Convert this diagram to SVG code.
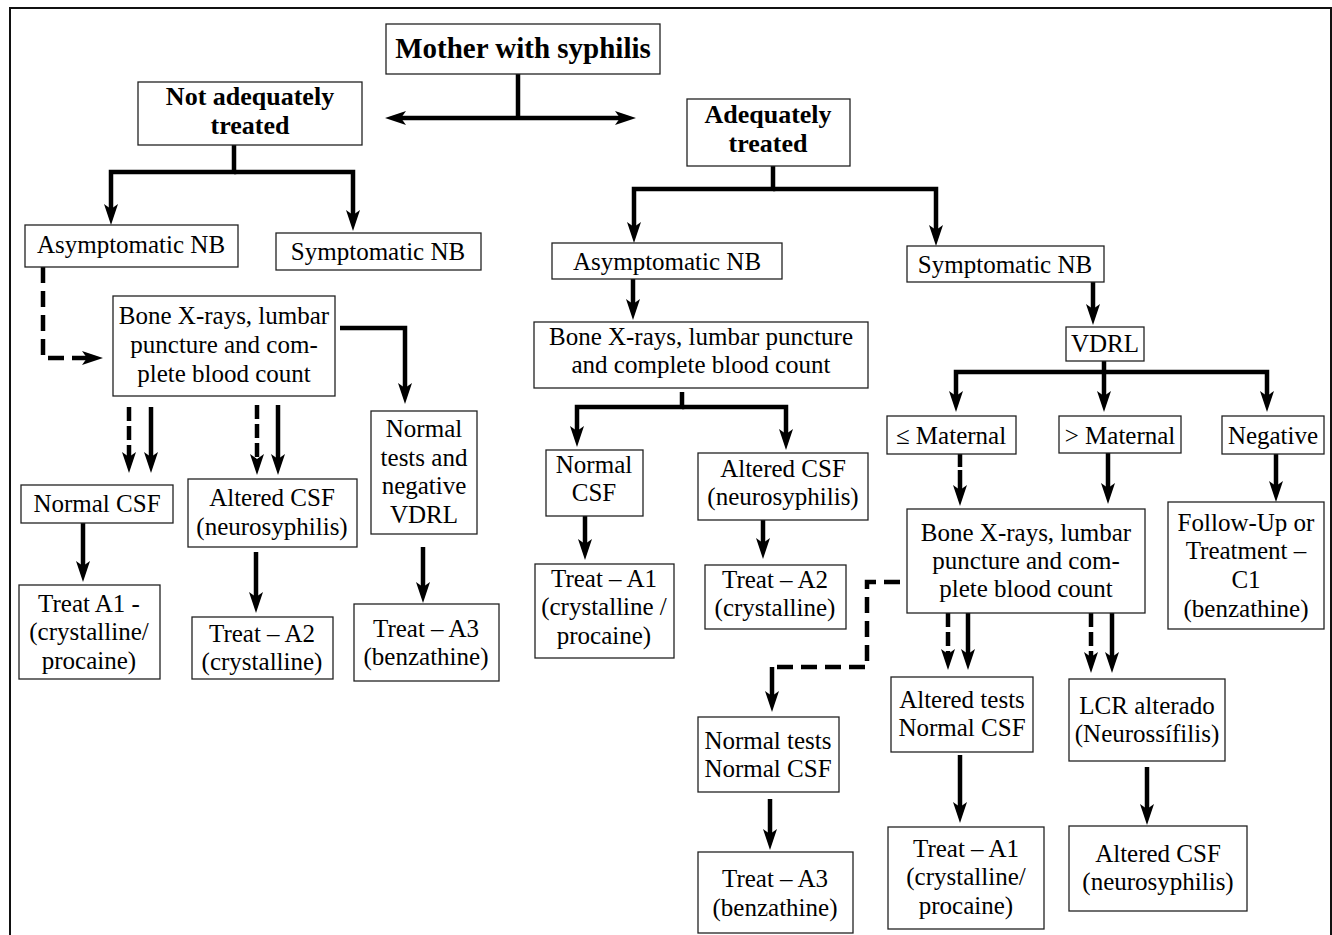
<svg xmlns="http://www.w3.org/2000/svg" width="1332" height="935" viewBox="0 0 1332 935">
<style>
.box{fill:#fff;stroke:#222;stroke-width:1.3}
.t{font-family:"Liberation Serif","Times New Roman",serif;font-size:25px;fill:#000;text-anchor:middle}
.b{font-weight:bold;font-size:26px}
.c{fill:none;stroke:#000;stroke-width:4.5;stroke-linejoin:miter}
.a{marker-end:url(#ah)}
.d{stroke-dasharray:14 5}
.dl{stroke-dasharray:16 8}
.frame{fill:none;stroke:#111;stroke-width:2}
</style>
<defs>
<marker id="ah" markerUnits="userSpaceOnUse" markerWidth="22" markerHeight="16" refX="9" refY="7" orient="auto-start-reverse">
<path d="M0,0 L21,7 L0,14 L5,7 z" fill="#000"/>
</marker>
</defs>
<rect width="1332" height="935" fill="#fff"/>
<path class="frame" d="M10,945 V8 H1331 V945"/>

<g id="connectors">
<path class="c" d="M518,74 V118"/>
<path class="c" d="M397,118 H624" marker-start="url(#ah)" marker-end="url(#ah)"/>
<path class="c a" d="M234,145 V172 H111 V213"/>
<path class="c a" d="M234,172 H353 V219"/>
<path class="c a" d="M773,166 V189 H634 V231"/>
<path class="c a" d="M773,189 H936 V234"/>
<path class="c a dl" d="M43,267 V358 H91"/>
<path class="c a" d="M340,328 H405 V392"/>
<path class="c a d" d="M129,407 V461"/>
<path class="c a" d="M151,407 V461"/>
<path class="c a d" d="M257,405 V463"/>
<path class="c a" d="M278,405 V463"/>
<path class="c a" d="M83,523 V570"/>
<path class="c a" d="M256,552 V601"/>
<path class="c a" d="M423,547 V591"/>
<path class="c a" d="M633,279 V308"/>
<path class="c a" d="M682,392 V407 H577 V435"/>
<path class="c a" d="M682,407 H786 V438"/>
<path class="c a" d="M585,516 V548"/>
<path class="c a" d="M763,520 V547"/>
<path class="c a" d="M1093,282 V313"/>
<path class="c a" d="M1104,361 V400"/>
<path class="c a" d="M1104,372 H956 V400"/>
<path class="c a" d="M1104,372 H1267 V400"/>
<path class="c a" d="M960,454 V494" style="stroke-dasharray:13 3 200"/>
<path class="c a" d="M1108,453 V492"/>
<path class="c a" d="M1276,454 V490"/>
<path class="c a d" d="M948,613 V658"/>
<path class="c a" d="M968,613 V658"/>
<path class="c a d" d="M1091,613 V661"/>
<path class="c a" d="M1112,613 V661"/>
<path class="c dl" d="M900,582 H867 V667 H772"/>
<path class="c a" d="M772,667 V700"/>
<path class="c a" d="M770,799 V838"/>
<path class="c a" d="M960,755 V811"/>
<path class="c a" d="M1147,767 V813"/>
</g>

<g id="n_mother"><rect class="box" x="386" y="24" width="274" height="50"/><text class="t b" x="523" y="58" style="font-size:29px">Mother with syphilis</text></g>
<g id="n_not_adequately"><rect class="box" x="138" y="82" width="224" height="63"/><text class="t b"><tspan x="250" y="105">Not adequately</tspan><tspan x="250" y="134">treated</tspan></text></g>
<g id="n_adequately"><rect class="box" x="687" y="99" width="163" height="67"/><text class="t b"><tspan x="768" y="123">Adequately</tspan><tspan x="768" y="152">treated</tspan></text></g>

<g id="n_asym_left"><rect class="box" x="25" y="225" width="213" height="42"/><text class="t" x="131" y="253">Asymptomatic NB</text></g>
<g id="n_sym_left"><rect class="box" x="276" y="233" width="205" height="37"/><text class="t" x="378" y="260">Symptomatic NB</text></g>
<g id="n_asym_mid"><rect class="box" x="552" y="243" width="230" height="36"/><text class="t" x="667" y="270">Asymptomatic NB</text></g>
<g id="n_sym_right"><rect class="box" x="907" y="246" width="197" height="36"/><text class="t" x="1005" y="273">Symptomatic NB</text></g>

<g id="n_bone_left"><rect class="box" x="113" y="296" width="222" height="100"/><text class="t"><tspan x="224" y="324">Bone X-rays, lumbar</tspan><tspan x="224" y="353">puncture and com-</tspan><tspan x="224" y="382">plete blood count</tspan></text></g>
<g id="n_normaltests_left"><rect class="box" x="371" y="411" width="106" height="123"/><text class="t"><tspan x="424" y="437">Normal</tspan><tspan x="424" y="466">tests and</tspan><tspan x="424" y="494">negative</tspan><tspan x="424" y="523">VDRL</tspan></text></g>
<g id="n_normalcsf_left"><rect class="box" x="21" y="485" width="152" height="38"/><text class="t" x="97" y="512">Normal CSF</text></g>
<g id="n_alteredcsf_left"><rect class="box" x="188" y="479" width="169" height="68"/><text class="t"><tspan x="272" y="506">Altered CSF</tspan><tspan x="272" y="535">(neurosyphilis)</tspan></text></g>
<g id="n_treatA1_left"><rect class="box" x="19" y="585" width="141" height="94"/><text class="t"><tspan x="89" y="612">Treat A1 -</tspan><tspan x="89" y="640">(crystalline/</tspan><tspan x="89" y="669">procaine)</tspan></text></g>
<g id="n_treatA2_left"><rect class="box" x="192" y="617" width="141" height="62"/><text class="t"><tspan x="262" y="642">Treat – A2</tspan><tspan x="262" y="670">(crystalline)</tspan></text></g>
<g id="n_treatA3_left"><rect class="box" x="354" y="604" width="145" height="77"/><text class="t"><tspan x="426" y="637">Treat – A3</tspan><tspan x="426" y="665">(benzathine)</tspan></text></g>

<g id="n_bone_mid"><rect class="box" x="534" y="322" width="334" height="66"/><text class="t"><tspan x="701" y="345">Bone X-rays, lumbar puncture</tspan><tspan x="701" y="373">and complete blood count</tspan></text></g>
<g id="n_normalcsf_mid"><rect class="box" x="546" y="450" width="97" height="66"/><text class="t"><tspan x="594" y="473">Normal</tspan><tspan x="594" y="501">CSF</tspan></text></g>
<g id="n_alteredcsf_mid"><rect class="box" x="698" y="453" width="170" height="67"/><text class="t"><tspan x="783" y="477">Altered CSF</tspan><tspan x="783" y="505">(neurosyphilis)</tspan></text></g>
<g id="n_treatA1_mid"><rect class="box" x="535" y="564" width="139" height="94"/><text class="t"><tspan x="604" y="587">Treat – A1</tspan><tspan x="604" y="615">(crystalline /</tspan><tspan x="604" y="644">procaine)</tspan></text></g>
<g id="n_treatA2_mid"><rect class="box" x="705" y="565" width="141" height="64"/><text class="t"><tspan x="775" y="588">Treat – A2</tspan><tspan x="775" y="616">(crystalline)</tspan></text></g>

<g id="n_vdrl"><rect class="box" x="1066" y="327" width="78" height="34"/><text class="t" x="1105" y="352">VDRL</text></g>
<g id="n_le_maternal"><rect class="box" x="887" y="416" width="129" height="38"/><text class="t" x="951" y="444">≤ Maternal</text></g>
<g id="n_gt_maternal"><rect class="box" x="1059" y="416" width="122" height="37"/><text class="t" x="1120" y="444">&gt; Maternal</text></g>
<g id="n_negative"><rect class="box" x="1222" y="416" width="102" height="38"/><text class="t" x="1273" y="444">Negative</text></g>
<g id="n_bone_right"><rect class="box" x="907" y="509" width="238" height="104"/><text class="t"><tspan x="1026" y="541">Bone X-rays, lumbar</tspan><tspan x="1026" y="569">puncture and com-</tspan><tspan x="1026" y="597">plete blood count</tspan></text></g>
<g id="n_followup"><rect class="box" x="1168" y="502" width="156" height="127"/><text class="t"><tspan x="1246" y="531">Follow-Up or</tspan><tspan x="1246" y="559">Treatment –</tspan><tspan x="1246" y="588">C1</tspan><tspan x="1246" y="617">(benzathine)</tspan></text></g>
<g id="n_normaltests_right"><rect class="box" x="698" y="717" width="141" height="75"/><text class="t"><tspan x="768" y="749">Normal tests</tspan><tspan x="768" y="777">Normal CSF</tspan></text></g>
<g id="n_treatA3_right"><rect class="box" x="698" y="852" width="155" height="81"/><text class="t"><tspan x="775" y="887">Treat – A3</tspan><tspan x="775" y="916">(benzathine)</tspan></text></g>
<g id="n_alteredtests_right"><rect class="box" x="891" y="677" width="142" height="75"/><text class="t"><tspan x="962" y="708">Altered tests</tspan><tspan x="962" y="736">Normal CSF</tspan></text></g>
<g id="n_lcr"><rect class="box" x="1069" y="679" width="156" height="82"/><text class="t"><tspan x="1147" y="714">LCR alterado</tspan><tspan x="1147" y="742">(Neurossífilis)</tspan></text></g>
<g id="n_treatA1_right"><rect class="box" x="888" y="827" width="156" height="102"/><text class="t"><tspan x="966" y="857">Treat – A1</tspan><tspan x="966" y="885">(crystalline/</tspan><tspan x="966" y="914">procaine)</tspan></text></g>
<g id="n_alteredcsf_right"><rect class="box" x="1069" y="826" width="178" height="85"/><text class="t"><tspan x="1158" y="862">Altered CSF</tspan><tspan x="1158" y="890">(neurosyphilis)</tspan></text></g>
</svg>
